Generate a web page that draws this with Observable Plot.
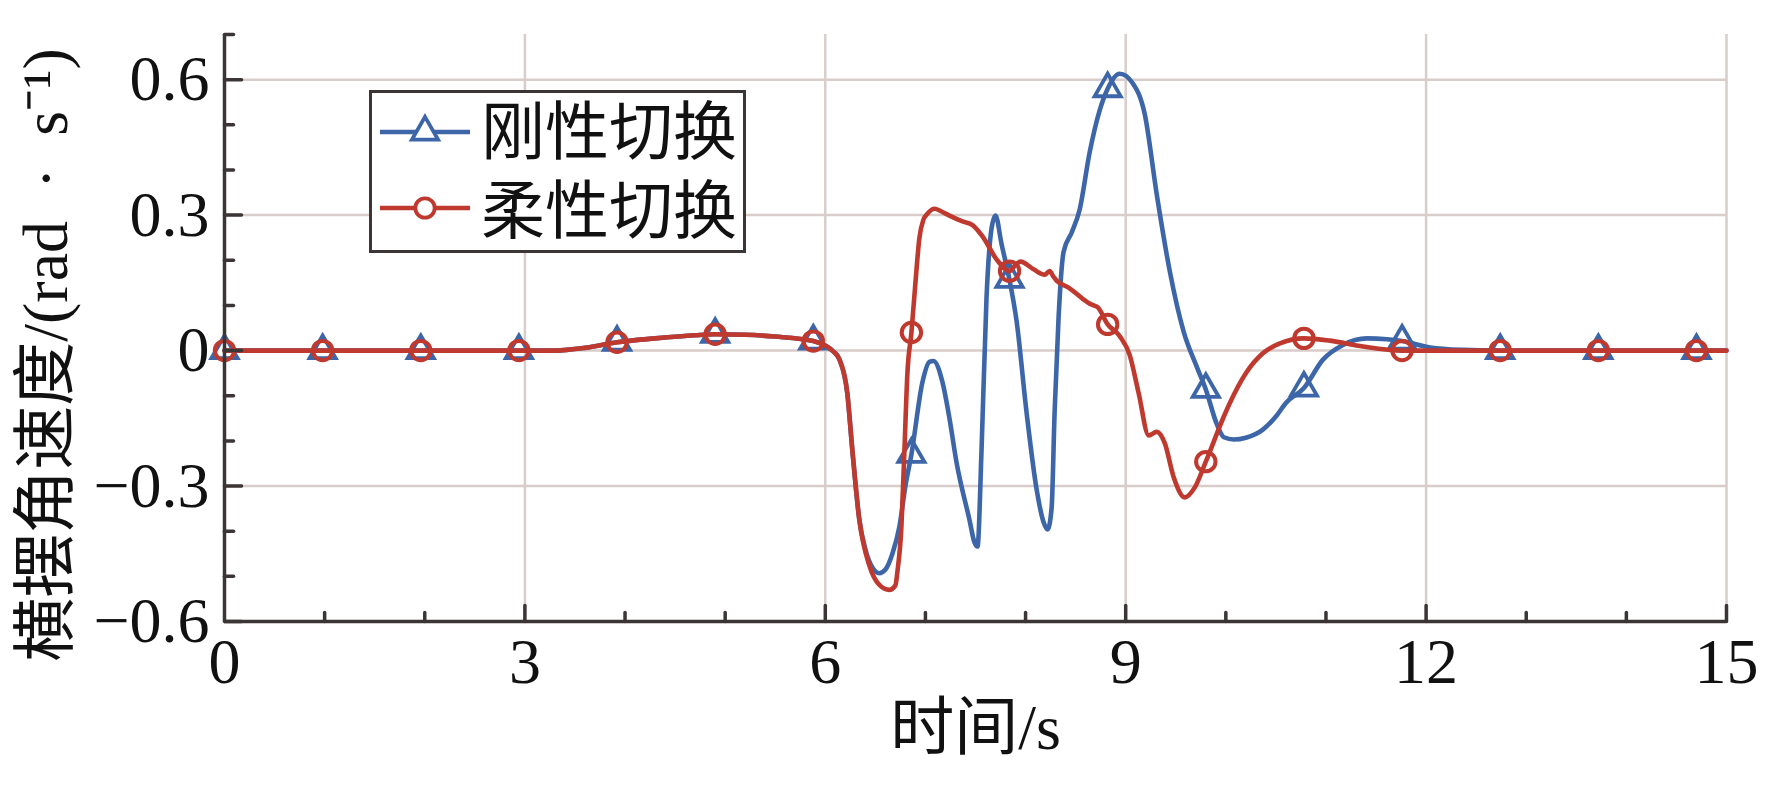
<!DOCTYPE html>
<html><head><meta charset="utf-8">
<script src="https://cdn.jsdelivr.net/npm/d3@7"></script>
<script src="https://cdn.jsdelivr.net/npm/@observablehq/plot@0.6"></script>
<style>
html,body{margin:0;padding:0;background:#fff;}
#wrap{position:relative;width:1774px;height:805px;}
#legend{position:absolute;left:369px;top:90px;}
</style></head><body><div id="wrap"></div>
<script>
// ---- data ----
const seriesNames = ["刚性切换", "柔性切换"];
const rigidT = [0,3.3,3.6,3.92,4.3,4.7,4.9,5.2,5.5,5.88,6.0,6.08,6.14,6.22,6.27,6.34,6.4,6.47,6.54,6.6,6.67,6.74,6.8,6.86,6.97,7.04,7.08,7.17,7.24,7.31,7.44,7.49,7.52,7.56,7.61,7.66,7.7,7.76,7.84,7.91,8.01,8.11,8.18,8.22,8.26,8.29,8.33,8.38,8.46,8.54,8.64,8.74,8.82,8.94,9.07,9.19,9.31,9.44,9.58,9.71,9.8,9.91,9.98,10.08,10.2,10.37,10.5,10.6,10.78,10.97,11.17,11.41,11.61,11.76,12.04,12.37,12.7,15];
const rigidV = [0,0,0.006,0.0185,0.027,0.034,0.036,0.035,0.031,0.021,0.011,-0.002,-0.019,-0.095,-0.22,-0.375,-0.44,-0.48,-0.493,-0.485,-0.45,-0.39,-0.3,-0.23,-0.07,-0.025,-0.023,-0.07,-0.15,-0.247,-0.375,-0.425,-0.434,-0.222,0.117,0.27,0.299,0.236,0.156,0.066,-0.137,-0.307,-0.38,-0.396,-0.349,-0.137,0.075,0.219,0.261,0.312,0.439,0.532,0.58,0.613,0.592,0.524,0.346,0.176,0.041,-0.036,-0.086,-0.163,-0.192,-0.197,-0.193,-0.175,-0.146,-0.116,-0.083,-0.02,0.0125,0.027,0.025,0.021,0.007,0.0015,0,0];
const flexT = [0,3.3,3.6,3.92,4.3,4.7,4.9,5.2,5.5,5.88,6.0,6.08,6.14,6.22,6.27,6.34,6.44,6.54,6.64,6.7,6.72,6.76,6.79,6.82,6.86,6.9,6.94,6.98,7.02,7.09,7.16,7.24,7.37,7.47,7.57,7.71,7.84,7.9,7.95,8.08,8.19,8.24,8.28,8.31,8.44,8.58,8.64,8.68,8.72,8.82,8.94,9.04,9.13,9.23,9.31,9.39,9.48,9.59,9.69,9.8,9.98,10.04,10.2,10.37,10.54,10.78,11.04,11.37,11.76,12.2,15];
const flexV = [0,0,0.006,0.0185,0.027,0.034,0.036,0.035,0.031,0.021,0.011,-0.002,-0.019,-0.095,-0.22,-0.375,-0.476,-0.519,-0.53,-0.52,-0.49,-0.39,-0.222,-0.05,0.04,0.15,0.25,0.29,0.303,0.314,0.308,0.299,0.286,0.278,0.253,0.202,0.176,0.19,0.197,0.18,0.168,0.176,0.163,0.155,0.138,0.113,0.104,0.1,0.096,0.058,0.032,-0.01,-0.095,-0.188,-0.18,-0.205,-0.281,-0.325,-0.303,-0.246,-0.146,-0.116,-0.05,-0.006,0.016,0.027,0.022,0.009,0,0,0];
const markerT = [0,0.98,1.96,2.94,3.92,4.9,5.88,6.86,7.84,8.82,9.8,10.78,11.76,12.74,13.72,14.7];
const rigidMarkV = [0,0,0,0,0.0185,0.036,0.021,-0.23,0.158,0.58,-0.086,-0.083,0.021,0,0,0];
const flexMarkV  = [0,0,0,0,0.0185,0.036,0.021,0.04,0.176,0.058,-0.246,0.027,0,0,0,0];
const xMajor = [0,3,6,9,12,15];
const xMinor = [1,2,4,5,7,8,10,11,13,14];
const yMajor = [-0.6,-0.3,0,0.3,0.6];
const yMinor = [-0.5,-0.4,-0.2,-0.1,0.1,0.2,0.4,0.5,0.7];
const xLabel = "时间/s";
const yLabel = "横摆角速度/(rad\u2002·\u2002s⁻¹)";

// ---- styles ----
const blue = "#3d66a9", red = "#bf392f", axisC = "#3b3536", gridC = "#d8cdca";
const serif = "'Liberation Serif','Times New Roman','Noto Sans CJK SC',serif";
const rigid = rigidT.map((t,i)=>({t, v: rigidV[i]}));
const flex = flexT.map((t,i)=>({t, v: flexV[i]}));
const rigidM = markerT.map((t,i)=>({t, v: rigidMarkV[i]}));
const flexM = markerT.map((t,i)=>({t, v: flexMarkV[i]}));
const tickShape = {draw(ctx, l){ ctx.moveTo(0,0); ctx.lineTo(0,-l); }};
const R = 9.7;
const fmtY = d => d === 0 ? "0" : (d < 0 ? "\u2212" : "") + Math.abs(d).toFixed(1);
const fmtX = d => String(d);

const chart = Plot.plot({
  width: 1774, height: 805,
  marginLeft: 224, marginRight: 48, marginTop: 34, marginBottom: 184,
  x: {domain: [0, 15]},
  y: {domain: [-0.6, 0.7]},
  style: {fontFamily: serif, background: "#fff", color: "#111"},
  marks: [
    Plot.ruleX(xMajor.filter(d => d > 0), {stroke: gridC, strokeWidth: 2.5}),
    Plot.ruleY(yMajor.filter(d => d > -0.6), {stroke: gridC, strokeWidth: 2.5}),
    Plot.line(rigid, {x: "t", y: "v", stroke: blue, strokeWidth: 4.6, curve: "monotone-x"}),
    Plot.dot(rigidM, {x: "t", y: "v", symbol: "triangle", r: R, stroke: blue, strokeWidth: 3.8, fill: "none"}),
    Plot.line(flex, {x: "t", y: "v", stroke: red, strokeWidth: 4.6, curve: "monotone-x"}),
    Plot.dot(flexM, {x: "t", y: "v", symbol: "circle", r: R, stroke: red, strokeWidth: 4, fill: "none"}),
    Plot.ruleX([0], {y1: -0.6, y2: 0.7, stroke: axisC, strokeWidth: 3.5}),
    Plot.ruleY([-0.6], {x1: 0, x2: 15, stroke: axisC, strokeWidth: 3.5}),
    Plot.vector(yMajor, {x: 0, y: d => d, length: 17, rotate: 90, anchor: "start", shape: tickShape, stroke: axisC, strokeWidth: 3.5}),
    Plot.vector(yMinor, {x: 0, y: d => d, length: 9, rotate: 90, anchor: "start", shape: tickShape, stroke: axisC, strokeWidth: 3.5}),
    Plot.vector(xMajor.filter(d => d > 0), {x: d => d, y: -0.6, length: 16, anchor: "start", shape: tickShape, stroke: axisC, strokeWidth: 3.5}),
    Plot.vector(xMinor, {x: d => d, y: -0.6, length: 9, anchor: "start", shape: tickShape, stroke: axisC, strokeWidth: 3.5}),
    Plot.axisX({ticks: xMajor, tickSize: 0, tickPadding: 16, tickFormat: fmtX, fontSize: 64, label: null, fill: "#111"}),
    Plot.axisY({ticks: yMajor, tickSize: 0, tickPadding: 15, tickFormat: fmtY, fontSize: 64, label: null, fill: "#111"}),
    Plot.text([xLabel], {text: d => d, frameAnchor: "bottom", dy: 127, fontSize: 64, fill: "#111", fontFamily: serif}),
    Plot.text([yLabel], {text: d => d, frameAnchor: "middle", rotate: -90, dx: 46 - 975, dy: 27, fontSize: 64, fill: "#111", fontFamily: serif})
  ]
});
const wrap = document.getElementById("wrap");
wrap.appendChild(chart);

// ---- legend (overlay) ----
const lg = d3.create("svg").attr("id", "legend").attr("width", 377).attr("height", 163)
  .style("font-family", serif);
lg.append("rect").attr("x", 1.5).attr("y", 1.5).attr("width", 374).attr("height", 160)
  .attr("fill", "#fff").attr("stroke", axisC).attr("stroke-width", 3);
const rows = [{name: seriesNames[0], color: blue, sym: d3.symbolTriangle, y: 42, ty: 42},
              {name: seriesNames[1], color: red, sym: d3.symbolCircle, y: 118, ty: 121}];
rows.forEach(r => {
  lg.append("line").attr("x1", 11).attr("x2", 101).attr("y1", r.y).attr("y2", r.y)
    .attr("stroke", r.color).attr("stroke-width", 4.6);
  lg.append("path").attr("d", d3.symbol(r.sym, Math.PI * R * R)())
    .attr("transform", `translate(56,${r.y})`).attr("fill", "#fff")
    .attr("stroke", r.color).attr("stroke-width", 3.8);
  lg.append("text").attr("x", 112).attr("y", r.ty).attr("dominant-baseline", "central")
    .attr("font-size", 64).attr("fill", "#111").text(r.name);
});
wrap.appendChild(lg.node());
</script></body></html>
